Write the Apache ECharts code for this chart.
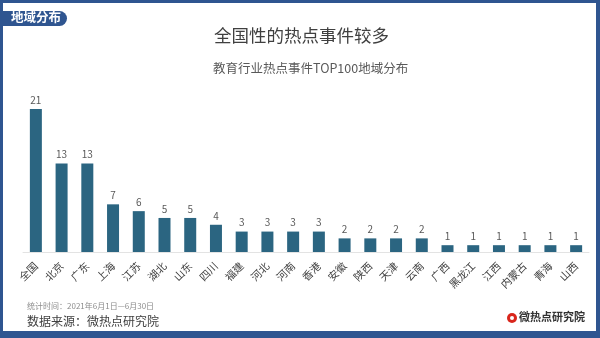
<!DOCTYPE html>
<html>
<head>
<meta charset="utf-8">
<script src="https://cdn.jsdelivr.net/npm/echarts@6/dist/echarts.min.js"></script>
<style>
html,body{margin:0;padding:0;background:#fff;}
#main{width:600px;height:338px;}
</style>
</head>
<body>
<div id="main"></div>
<script>
var categories = ['全国','北京','广东','上海','江苏','湖北','山东','四川','福建','河北','河南','香港','安徽','陕西','天津','云南','广西','黑龙江','江西','内蒙古','青海','山西'];
var values = [21,13,13,7,6,5,5,4,3,3,3,3,2,2,2,2,1,1,1,1,1,1];

var FONT = '"Noto Sans CJK SC", "Noto Sans", sans-serif';
var FRAME = '#2f5590';
var chart = echarts.init(document.getElementById('main'), null, {renderer:'canvas'});
chart.setOption({
  backgroundColor: '#ffffff',
  animation: false,
  title: [
    {text: '全国性的热点事件较多', left: 214, top: 27, padding: 0,
     textStyle: {fontFamily: FONT, fontSize: 17.5, fontWeight: 'normal', color: '#404040'}},
    {text: '教育行业热点事件TOP100地域分布', left: 213, top: 62, padding: 0,
     textStyle: {fontFamily: FONT, fontSize: 12.5, fontWeight: 'normal', color: '#595959'}}
  ],
  grid: {left: 23, right: 11, top: 109, bottom: 86, containLabel: false},
  xAxis: {
    type: 'category', data: categories,
    axisLine: {show: true, lineStyle: {color: '#e3e3e3', width: 1}},
    axisTick: {show: false},
    axisLabel: {rotate: 45, interval: 0, margin: 12, fontFamily: FONT, fontSize: 10.5, color: '#404040'}
  },
  yAxis: {type: 'value', min: 0, max: 21, show: false, splitLine: {show: false}},
  series: [{
    type: 'bar', data: values, barWidth: 12,
    itemStyle: {color: '#2b6581'},
    label: {show: true, position: 'top', distance: 4, fontFamily: FONT, fontSize: 10, color: '#595959'}
  }],
  graphic: [
    {type: 'rect', shape: {x: 0, y: 0, width: 600, height: 3}, style: {fill: FRAME}},
    {type: 'rect', shape: {x: 0, y: 0, width: 3, height: 338}, style: {fill: FRAME}},
    {type: 'rect', shape: {x: 596, y: 0, width: 4, height: 338}, style: {fill: FRAME}},
    {type: 'rect', shape: {x: 0, y: 331, width: 600, height: 7}, style: {fill: FRAME}},
    {type: 'rect', shape: {x: 0, y: 11, width: 67, height: 15, r: [0, 7.5, 7.5, 0]}, style: {fill: FRAME}},
    {type: 'text', left: 11, top: 11, style: {text: '地域分布', fill: '#ffffff', font: 'bold 12.5px ' + FONT}},
    {type: 'text', left: 27, top: 302, style: {text: '统计时间：2021年6月1日—6月30日', fill: '#8c8c8c', font: '8px ' + FONT}},
    {type: 'text', left: 27, top: 315, style: {text: '数据来源：微热点研究院', fill: '#404040', font: '12px ' + FONT}},
    {type: 'circle', shape: {cx: 512, cy: 318, r: 5}, style: {fill: '#d9261c'}},
    {type: 'circle', shape: {cx: 512, cy: 318, r: 2}, style: {fill: '#ffffff'}},
    {type: 'text', left: 519, top: 311, style: {text: '微热点研究院', fill: '#333333', font: 'bold 11px ' + FONT}}
  ]
});
</script>
</body>
</html>
